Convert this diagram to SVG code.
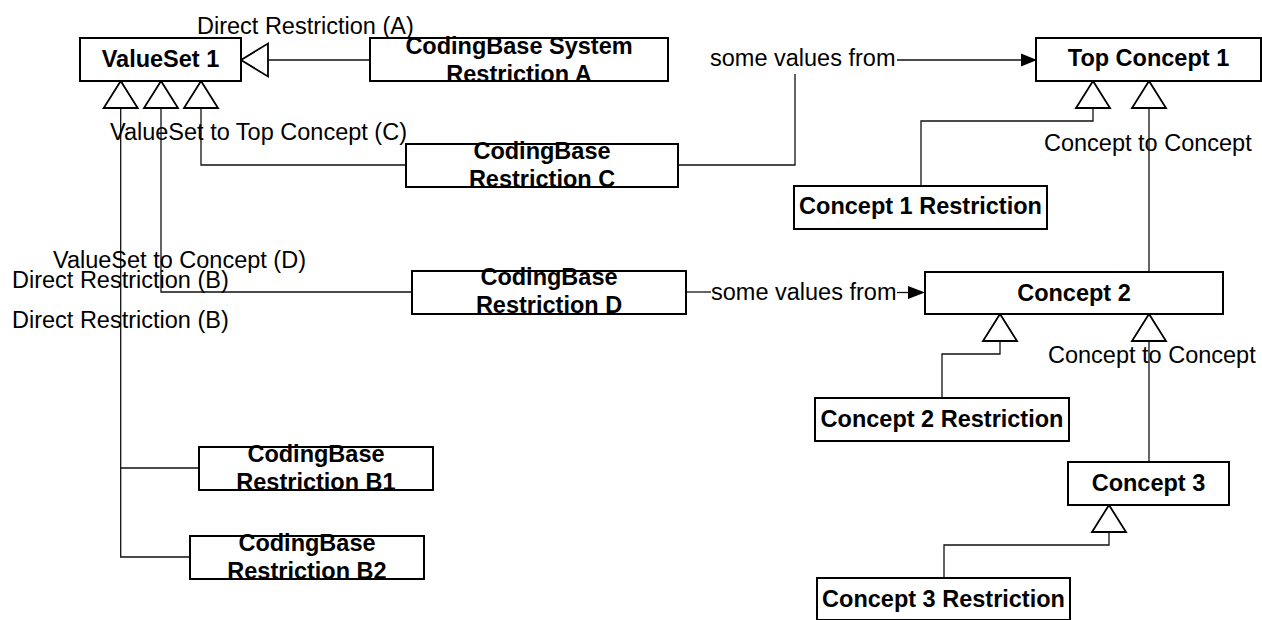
<svg xmlns="http://www.w3.org/2000/svg" width="1262" height="620" viewBox="0 0 1262 620">
<style>
.box{fill:#fff;stroke:#000;stroke-width:2}
.nt{font-family:"Liberation Sans",Arial,sans-serif;font-weight:bold;font-size:23.5px;text-anchor:middle;fill:#000}
.lb{font-family:"Liberation Sans",Arial,sans-serif;font-size:23.5px;fill:#000}
.ln{fill:none;stroke:#111;stroke-width:1.3}
.tri{fill:#fff;stroke:#000;stroke-width:1.8;stroke-linejoin:miter}
.ah{fill:#000;stroke:none}
</style>
<defs>
<polygon id="up" class="tri" points="0,0 -17,27 17,27"/>
<polygon id="left" class="tri" points="0,0 27,-16.5 27,16.5"/>
</defs>
<rect width="1262" height="620" fill="#fff"/>
<g id="connectors">
<line class="ln" x1="268" y1="60" x2="370" y2="60"/>
<path class="ln" d="M201,108 V165 H406"/>
<path class="ln" d="M161,108 V292 H412"/>
<path class="ln" d="M120.7,108 V557 H190"/>
<path class="ln" d="M120.7,468 H199"/>
<path class="ln" d="M678,165 H795 V74"/>
<path class="ln" d="M897,60 H1022"/>
<polygon class="ah" points="1021,53.5 1037,60 1021,66.5"/>
<path class="ln" d="M686,292 H711"/>
<path class="ln" d="M897,292.5 H909"/>
<polygon class="ah" points="908,286 925,292.5 908,299"/>
<path class="ln" d="M921,186 V121 H1093 V108"/>
<path class="ln" d="M1149,108 V272"/>
<path class="ln" d="M942,398 V354 H1000 V341"/>
<path class="ln" d="M1149,341 V462"/>
<path class="ln" d="M944,578 V545 H1109 V532"/>
<use href="#left" x="241" y="60"/>
<use href="#up" x="120.7" y="81"/>
<use href="#up" x="161" y="81"/>
<use href="#up" x="201" y="81"/>
<use href="#up" x="1093" y="81"/>
<use href="#up" x="1149" y="81"/>
<use href="#up" x="1000" y="314"/>
<use href="#up" x="1149" y="314"/>
<use href="#up" x="1109" y="505"/>
<text class="lb" x="197" y="34">Direct Restriction (A)</text>
<text class="lb" x="110" y="140">ValueSet to Top Concept (C)</text>
<text class="lb" x="710" y="66">some values from</text>
<text class="lb" x="1044" y="151">Concept to Concept</text>
<text class="lb" x="53" y="268">ValueSet to Concept (D)</text>
<text class="lb" x="12" y="288">Direct Restriction (B)</text>
<text class="lb" x="12" y="328">Direct Restriction (B)</text>
<text class="lb" x="711" y="300">some values from</text>
<text class="lb" x="1048" y="363">Concept to Concept</text>
</g>
<g id="valueset1"><rect class="box" x="80" y="38" width="161" height="43"/><text class="nt" x="160.5" y="67">ValueSet 1</text></g>
<g id="restrictionA"><rect class="box" x="370" y="38" width="298" height="43"/><text class="nt" x="519" y="53.5">CodingBase System</text><text class="nt" x="519" y="81.5">Restriction A</text></g>
<g id="restrictionC"><rect class="box" x="406" y="144" width="272" height="43"/><text class="nt" x="542" y="158.5">CodingBase</text><text class="nt" x="542" y="186.5">Restriction C</text></g>
<g id="restrictionD"><rect class="box" x="412" y="271" width="274" height="43"/><text class="nt" x="549" y="285">CodingBase</text><text class="nt" x="549" y="313">Restriction D</text></g>
<g id="restrictionB1"><rect class="box" x="199" y="447" width="234" height="43"/><text class="nt" x="316" y="461.5">CodingBase</text><text class="nt" x="316" y="489.5">Restriction B1</text></g>
<g id="restrictionB2"><rect class="box" x="190" y="536" width="234" height="43"/><text class="nt" x="307" y="550.5">CodingBase</text><text class="nt" x="307" y="578.5">Restriction B2</text></g>
<g id="topconcept1"><rect class="box" x="1036" y="38" width="225" height="43"/><text class="nt" x="1148.5" y="66">Top Concept 1</text></g>
<g id="concept1restriction"><rect class="box" x="794" y="186" width="253" height="43"/><text class="nt" x="920.5" y="214">Concept 1 Restriction</text></g>
<g id="concept2"><rect class="box" x="925" y="272" width="298" height="42"/><text class="nt" x="1074" y="300.5">Concept 2</text></g>
<g id="concept2restriction"><rect class="box" x="815" y="398" width="254" height="43"/><text class="nt" x="942" y="427">Concept 2 Restriction</text></g>
<g id="concept3"><rect class="box" x="1068" y="462" width="161" height="43"/><text class="nt" x="1148.5" y="491">Concept 3</text></g>
<g id="concept3restriction"><rect class="box" x="817" y="578" width="253" height="42"/><text class="nt" x="943.5" y="606.5">Concept 3 Restriction</text></g>
</svg>
